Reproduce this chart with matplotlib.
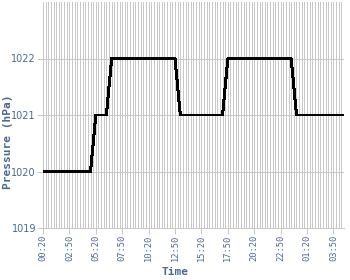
import pandas as pd
import matplotlib
matplotlib.use("Agg")
import matplotlib.pyplot as plt
import matplotlib.dates as mdates

# ============================================================
# DATA
# ============================================================

times = [
    "2024-01-01 00:20", "2024-01-01 04:50", "2024-01-01 05:20",
    "2024-01-01 06:20", "2024-01-01 06:50", "2024-01-01 12:50",
    "2024-01-01 13:20", "2024-01-01 17:20", "2024-01-01 17:50",
    "2024-01-01 23:50", "2024-01-02 00:20", "2024-01-02 04:50",
]
pressure = [1020, 1020, 1021, 1021, 1022, 1022,
            1021, 1021, 1022, 1022, 1021, 1021]

x_start = "2024-01-01 00:20"
x_end = "2024-01-02 04:50"
y_ticks = [1019, 1020, 1021, 1022]

t = pd.to_datetime(times)

# ============================================================
# PLOT
# ============================================================

label_color = "#4a6890"
grid_color = "#c8c8c8"
px = 0.72  # one pixel at 100 dpi, in points

fig = plt.figure(figsize=(3.5, 2.8), dpi=100)
ax = fig.add_axes([43 / 350, 52 / 280, 301 / 350, 226 / 280])

ax.plot(t, pressure, color="black", linewidth=2 * px, zorder=3,
        antialiased=False)

ax.set_xlim(pd.Timestamp(x_start), pd.Timestamp(x_end))
ax.set_ylim(1019, 1023)

ax.set_xticks(pd.date_range(x_start, x_end, freq="150min"))
ax.xaxis.set_major_formatter(mdates.DateFormatter("%H:%M"))
ax.xaxis.set_minor_locator(mdates.MinuteLocator(byminute=[5, 20, 35, 50]))
ax.set_yticks(y_ticks)

ax.grid(which="both", axis="x", color=grid_color, linewidth=px,
        antialiased=False)
ax.grid(which="major", axis="y", color=grid_color, linewidth=px,
        antialiased=False)
ax.set_axisbelow(True)

for side in ["top", "right", "left"]:
    ax.spines[side].set_visible(False)
ax.spines["bottom"].set_color(grid_color)
ax.spines["bottom"].set_linewidth(px)
ax.spines["bottom"].set_antialiased(False)

ax.tick_params(axis="both", which="major", length=4, width=px,
               color=grid_color, labelcolor=label_color, pad=1)
ax.tick_params(axis="y", labelsize=7)
ax.tick_params(axis="x", labelsize=6.3)
ax.tick_params(axis="x", which="minor", length=0)
plt.setp(ax.get_xticklabels(), rotation=90, family="DejaVu Sans Mono")
plt.setp(ax.get_yticklabels(), family="DejaVu Sans")

ax.set_xlabel("Time", color=label_color, fontsize=8, fontweight="bold",
              family="DejaVu Sans Mono")
ax.set_ylabel("Pressure (hPa)", color=label_color, fontsize=8,
              fontweight="bold", family="DejaVu Sans Mono")

# axis titles are centred on the whole figure, not on the plot area
ax.xaxis.set_label_coords(175 / 350, 8 / 280, transform=fig.transFigure)
ax.yaxis.set_label_coords(8 / 350, 138 / 280, transform=fig.transFigure)
ax.xaxis.label.set_va("center")
ax.yaxis.label.set_va("center")

fig.savefig("out.png", dpi=100)
